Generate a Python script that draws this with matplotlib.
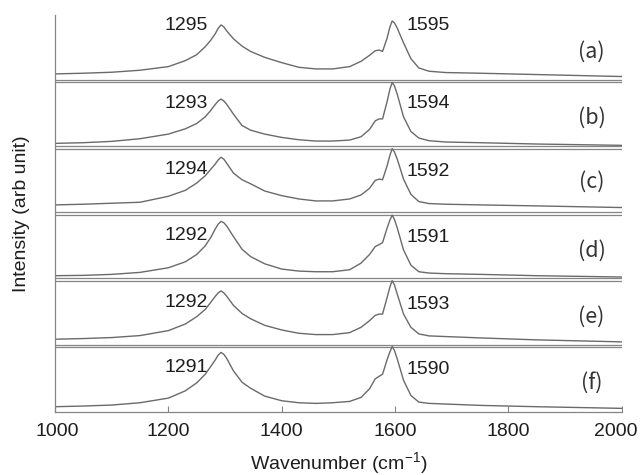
import matplotlib
matplotlib.use("Agg")
import matplotlib.pyplot as plt
from matplotlib.transforms import ScaledTranslation

plt.rcParams['font.family'] = ['Liberation Sans', 'DejaVu Sans']
plt.rcParams['mathtext.fontset'] = 'custom'
plt.rcParams['mathtext.rm'] = 'Liberation Sans'
plt.rcParams['mathtext.it'] = 'Liberation Sans:italic'
plt.rcParams['mathtext.bf'] = 'Liberation Sans:bold'

# ---------------- data ----------------
wavenumber = [1000, 1050, 1100, 1150, 1200, 1230, 1250, 1265, 1275, 1283, 1288,
              1293, 1298, 1303, 1315, 1330, 1345, 1370, 1400, 1430, 1460, 1490,
              1520, 1540, 1555, 1565, 1572, 1578, 1586, 1591, 1595, 1599, 1604,
              1615, 1628, 1642, 1660, 1690, 1750, 1850, 2000]

spectrum_a = [0.11, 0.12, 0.135, 0.165, 0.22, 0.31, 0.40, 0.52, 0.62, 0.72, 0.80,
              0.85, 0.82, 0.76, 0.64, 0.53, 0.45, 0.36, 0.28, 0.21, 0.185, 0.185,
              0.22, 0.30, 0.39, 0.46, 0.47, 0.45, 0.65, 0.82, 0.91, 0.88, 0.80,
              0.58, 0.34, 0.20, 0.15, 0.13, 0.12, 0.10, 0.07]
spectrum_b = [0.06, 0.07, 0.09, 0.13, 0.20, 0.28, 0.36, 0.46, 0.56, 0.65, 0.70,
              0.73, 0.70, 0.65, 0.50, 0.33, 0.26, 0.20, 0.15, 0.115, 0.095, 0.095,
              0.11, 0.16, 0.27, 0.40, 0.43, 0.43, 0.69, 0.88, 0.98, 0.93, 0.80,
              0.46, 0.24, 0.14, 0.10, 0.08, 0.07, 0.05, 0.03]
spectrum_c = [0.13, 0.14, 0.155, 0.17, 0.26, 0.35, 0.46, 0.57, 0.67, 0.75, 0.81,
              0.85, 0.82, 0.76, 0.61, 0.51, 0.45, 0.34, 0.27, 0.22, 0.19, 0.19,
              0.22, 0.28, 0.38, 0.50, 0.52, 0.51, 0.72, 0.88, 0.98, 0.93, 0.82,
              0.52, 0.29, 0.18, 0.15, 0.14, 0.13, 0.115, 0.09]
spectrum_d = [0.06, 0.065, 0.08, 0.11, 0.18, 0.27, 0.38, 0.51, 0.64, 0.77, 0.84,
              0.88, 0.86, 0.81, 0.65, 0.46, 0.35, 0.24, 0.16, 0.13, 0.12, 0.12,
              0.15, 0.25, 0.38, 0.50, 0.53, 0.56, 0.78, 0.90, 0.975, 0.91, 0.78,
              0.45, 0.22, 0.12, 0.10, 0.09, 0.08, 0.06, 0.04]
spectrum_e = [0.10, 0.11, 0.125, 0.155, 0.23, 0.33, 0.44, 0.55, 0.66, 0.75, 0.80,
              0.83, 0.80, 0.75, 0.61, 0.49, 0.41, 0.31, 0.24, 0.19, 0.17, 0.17,
              0.20, 0.28, 0.38, 0.46, 0.48, 0.48, 0.73, 0.89, 0.985, 0.92, 0.78,
              0.48, 0.28, 0.18, 0.15, 0.14, 0.12, 0.09, 0.06]
spectrum_f = [0.08, 0.09, 0.105, 0.14, 0.21, 0.32, 0.44, 0.57, 0.69, 0.79, 0.86,
              0.90, 0.87, 0.81, 0.62, 0.45, 0.36, 0.24, 0.17, 0.14, 0.13, 0.14,
              0.16, 0.22, 0.35, 0.50, 0.54, 0.57, 0.79, 0.91, 0.99, 0.93, 0.80,
              0.48, 0.25, 0.15, 0.13, 0.12, 0.10, 0.08, 0.055]

panel_labels = ["(a)", "(b)", "(c)", "(d)", "(e)", "(f)"]
d_peak_labels = ["1295", "1293", "1294", "1292", "1292", "1291"]
g_peak_labels = ["1595", "1594", "1592", "1591", "1593", "1590"]
xticks = [1000, 1200, 1400, 1600, 1800, 2000]

spectra = [spectrum_a, spectrum_b, spectrum_c, spectrum_d, spectrum_e, spectrum_f]

# ---------------- layout / style ----------------
d_label_y = [0.84, 0.67, 0.67, 0.66, 0.66, 0.68]
g_label_y = [0.84, 0.66, 0.64, 0.63, 0.63, 0.645]
curve_color = '#6a6a6a'
line_color = '#858585'
text_color = '#1e1e1e'

fig = plt.figure(figsize=(6.42, 4.75), dpi=100)
ax = fig.add_axes([55 / 642, 63 / 475, 566.7 / 642, 397 / 475])

n = len(spectra)
for i, spec in enumerate(spectra):
    off = n - 1 - i
    ax.plot(wavenumber, [off + v for v in spec], color=curve_color, lw=1.0,
            solid_joinstyle='round')
    ax.text(1270, off + d_label_y[i], d_peak_labels[i], ha='right', va='center',
            fontsize=14, color=text_color)
    ax.text(1620, off + g_label_y[i], g_peak_labels[i], ha='left', va='center',
            fontsize=14, color=text_color)
    ax.text(1947, off + (0.48 if i == 2 else 0.44), panel_labels[i], ha='center',
            va='center', fontsize=15.5, color='#333333',
            family=['Noto Sans CJK KR', 'DejaVu Sans'])
    if off > 0:
        for dy in (-0.018, 0.018):
            ax.axhline(off + dy, color=line_color, lw=0.9)

ax.set_xlim(1000, 2000)
ax.set_ylim(0, n)
ax.set_xticks(xticks)
ax.set_yticks([])
ax.tick_params(axis='x', direction='in', length=4, width=0.8, pad=8,
               labelsize=14, colors=line_color, labelcolor=text_color)
labels = ax.get_xticklabels()
labels[0].set_transform(labels[0].get_transform() +
                        ScaledTranslation(2 / 100, 0, fig.dpi_scale_trans))
labels[-1].set_transform(labels[-1].get_transform() +
                         ScaledTranslation(-6 / 100, 0, fig.dpi_scale_trans))
for s in ('top', 'right'):
    ax.spines[s].set_visible(False)
for s in ('left', 'bottom'):
    ax.spines[s].set_color(line_color)
    ax.spines[s].set_linewidth(0.9)

fig.text(338.5 / 642, 1 - 463 / 475, r'Wavenumber (cm$^{-1}$)', ha='center',
         va='center', fontsize=14, color=text_color)
fig.text(22 / 642, 1 - 213.5 / 475, 'Intensity (arb unit)', ha='center',
         va='center', rotation=90, fontsize=14, color=text_color)

fig.savefig('out.png', dpi=100)
